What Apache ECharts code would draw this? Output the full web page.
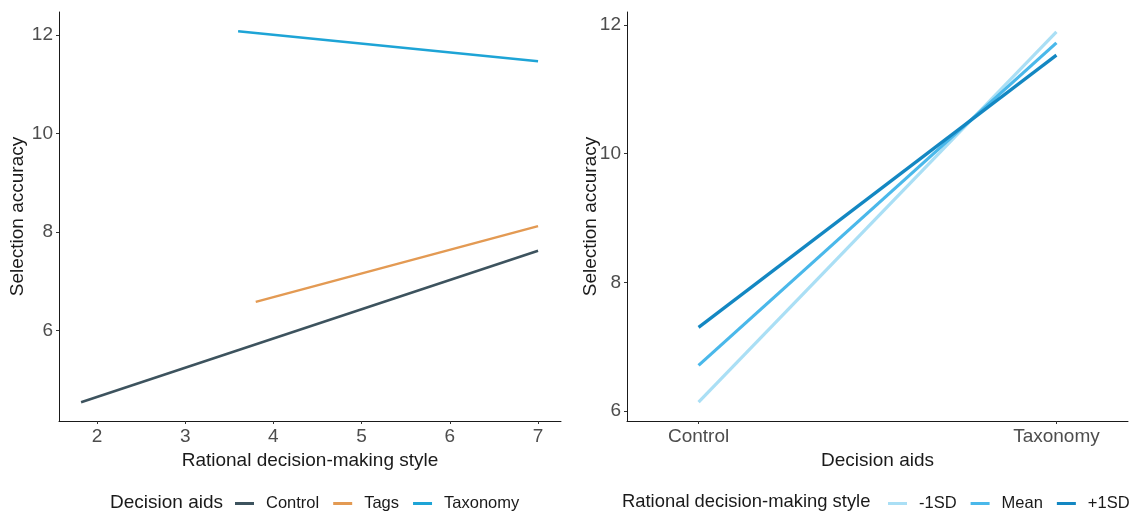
<!DOCTYPE html>
<html>
<head>
<meta charset="utf-8">
<script src="https://cdn.jsdelivr.net/npm/echarts@6/dist/echarts.min.js"></script>
<style>html,body{margin:0;padding:0;background:#fff;}#c{width:1138px;height:516px;}</style>
</head>
<body>
<div id="c"></div>
<script>
// Left panel data: [rational style, selection accuracy]
const leftNames = ['Control', 'Tags', 'Taxonomy'];
const controlLine = [[1.82, 4.54], [7, 7.62]];
const tagsLine = [[3.8, 6.58], [7, 8.12]];
const taxonomyLine = [[3.6, 12.08], [7, 11.47]];
const leftXTicks = [2, 3, 4, 5, 6, 7];
const leftYTicks = [6, 8, 10, 12];

// Right panel data
const rightCategories = ['Control', 'Taxonomy'];
const rightNames = ['-1SD', 'Mean', '+1SD'];
const minus1SD = [6.14, 11.89];
const meanSD = [6.71, 11.72];
const plus1SD = [7.30, 11.53];
const rightYTicks = [6, 8, 10, 12];

const leftColors = ['#3d535e', '#e39a53', '#1ea4d6'];
const rightColors = ['#aadff5', '#4ab8ea', '#1387c2'];

const FONT = 'Liberation Sans, Arial, sans-serif';
const tickLabel = {fontSize: 19, color: '#4d4d4d', fontFamily: FONT};
const nameStyle = {fontSize: 19, color: '#1a1a1a', fontFamily: FONT};
const axisLine = {show: true, onZero: false, lineStyle: {color: '#1a1a1a', width: 1}};
const axisTick = {show: true, length: 3, lineStyle: {color: '#333'}};

function toCat(vals) { return rightCategories.map((c, i) => [i, vals[i]]); }

const chart = echarts.init(document.getElementById('c'));
chart.setOption({
  animation: false,
  backgroundColor: '#fff',
  grid: [
    {left: 59, top: 12, width: 502, height: 409},
    {left: 627, top: 12, width: 501, height: 409}
  ],
  xAxis: [
    {
      gridIndex: 0, type: 'value', min: 1.57, max: 7.26,
      name: 'Rational decision-making style', nameLocation: 'middle', nameGap: 27, nameTextStyle: nameStyle,
      axisLine: axisLine,
      axisTick: Object.assign({customValues: leftXTicks}, axisTick),
      axisLabel: Object.assign({customValues: leftXTicks, margin: 6}, tickLabel),
      splitLine: {show: false}
    },
    {
      gridIndex: 1, type: 'value', min: -0.2, max: 1.2,
      name: 'Decision aids', nameLocation: 'middle', nameGap: 27, nameTextStyle: nameStyle,
      axisLine: axisLine,
      axisTick: Object.assign({customValues: [0, 1]}, axisTick),
      axisLabel: Object.assign({customValues: [0, 1], margin: 6, formatter: v => rightCategories[Math.round(v)]}, tickLabel),
      splitLine: {show: false}
    }
  ],
  yAxis: [
    {
      gridIndex: 0, type: 'value', min: 4.16, max: 12.47,
      name: 'Selection accuracy', nameLocation: 'middle', nameGap: 32, nameMoveOverlap: false, nameTextStyle: nameStyle,
      axisLine: axisLine,
      axisTick: Object.assign({customValues: leftYTicks}, axisTick),
      axisLabel: Object.assign({customValues: leftYTicks, margin: 6}, tickLabel),
      splitLine: {show: false}
    },
    {
      gridIndex: 1, type: 'value', min: 5.845, max: 12.2,
      name: 'Selection accuracy', nameLocation: 'middle', nameGap: 27, nameMoveOverlap: false, nameTextStyle: nameStyle,
      axisLine: axisLine,
      axisTick: Object.assign({customValues: rightYTicks}, axisTick),
      axisLabel: Object.assign({customValues: rightYTicks, margin: 6}, tickLabel),
      splitLine: {show: false}
    }
  ],
  legend: [
    {
      data: leftNames, left: 230, top: 490, width: 320, itemWidth: 19, itemHeight: 3, itemGap: 14, icon: 'rect',
      textStyle: {fontSize: 16.5, color: '#1a1a1a', fontFamily: FONT, padding: [0, 0, 0, 7]}
    },
    {
      data: rightNames, left: 883, top: 490, width: 260, itemWidth: 19, itemHeight: 3, itemGap: 14, icon: 'rect',
      textStyle: {fontSize: 16.5, color: '#1a1a1a', fontFamily: FONT, padding: [0, 0, 0, 7]}
    }
  ],
  graphic: [
    {type: 'text', left: 110, top: 493, style: {text: 'Decision aids', font: '19px ' + FONT, fill: '#1a1a1a'}},
    {type: 'text', left: 622, top: 493, style: {text: 'Rational decision-making style', font: '18.4px ' + FONT, fill: '#1a1a1a'}}
  ],
  series: [
    {name: leftNames[0], type: 'line', xAxisIndex: 0, yAxisIndex: 0, data: controlLine, showSymbol: false, color: leftColors[0], lineStyle: {width: 2.5}},
    {name: leftNames[1], type: 'line', xAxisIndex: 0, yAxisIndex: 0, data: tagsLine, showSymbol: false, color: leftColors[1], lineStyle: {width: 2.5}},
    {name: leftNames[2], type: 'line', xAxisIndex: 0, yAxisIndex: 0, data: taxonomyLine, showSymbol: false, color: leftColors[2], lineStyle: {width: 2.5}},
    {name: rightNames[0], type: 'line', xAxisIndex: 1, yAxisIndex: 1, data: toCat(minus1SD), showSymbol: false, color: rightColors[0], lineStyle: {width: 3.2}},
    {name: rightNames[1], type: 'line', xAxisIndex: 1, yAxisIndex: 1, data: toCat(meanSD), showSymbol: false, color: rightColors[1], lineStyle: {width: 3.2}},
    {name: rightNames[2], type: 'line', xAxisIndex: 1, yAxisIndex: 1, data: toCat(plus1SD), showSymbol: false, color: rightColors[2], lineStyle: {width: 3.2}}
  ]
});
</script>
</body>
</html>
